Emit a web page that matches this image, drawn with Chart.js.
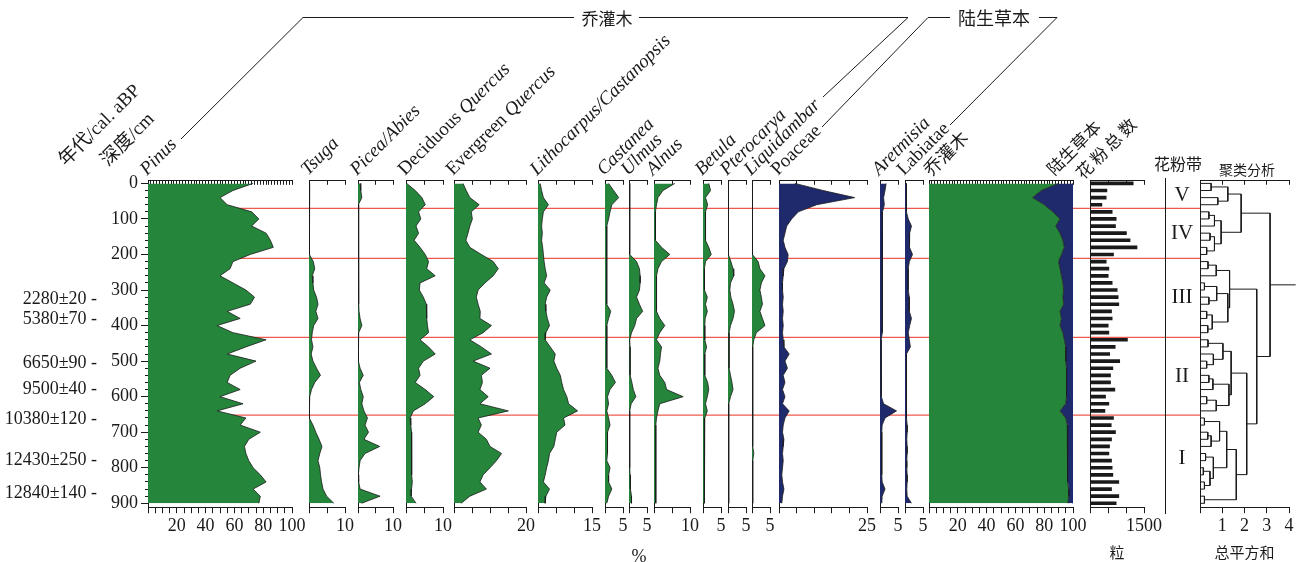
<!DOCTYPE html>
<html>
<head>
<meta charset="utf-8">
<script src="https://cdn.jsdelivr.net/npm/chart.js@4.4.1/dist/chart.umd.min.js"></script>
<style>
body { margin: 0; background: #fff; }
#wrap { position: relative; width: 1296px; height: 562px; overflow: hidden; font-family: "Liberation Serif", serif; color: #1a1a1a; }
#wrap canvas { position: absolute; }
.lab { position: absolute; white-space: nowrap; line-height: 1; transform-origin: 0 100%; transform: rotate(-45deg); }
.txt { position: absolute; white-space: nowrap; line-height: 1; transform: translate(-50%, -50%); }
.cjk { font-family: "Noto Sans CJK SC", sans-serif; }
</style>
</head>
<body>
<div id="wrap"></div>
<script>
// sample depths (cm)
const depths = [0, 20, 40, 60, 80, 100, 120, 140, 160, 180, 200, 220, 240, 260, 280, 300, 320, 340, 360, 380, 400, 420, 440, 460, 480, 500, 520, 540, 560, 580, 600, 620, 640, 660, 680, 700, 720, 740, 760, 780, 800, 820, 840, 860, 880, 900];

// pollen percentages, one value per depth
const pinus = [73, 59, 50, 55, 72, 77, 72, 82, 85, 87, 71, 59, 57, 50, 59, 68, 74, 71, 55, 64, 48, 59, 82, 68, 55, 75, 64, 57, 55, 64, 50, 66, 48, 68, 64, 78, 70, 67, 68, 70, 73, 78, 82, 73, 78, 77];
const tsuga = [0.2, 0.1, 0.1, 0.1, 0.1, 0.1, 0.1, 0.1, 0.1, 0.1, 0.2, 1.2, 1.6, 0.9, 1.1, 1.3, 2.1, 2.5, 1.9, 2.5, 1.3, 0.9, 0.7, 1.1, 0.6, 1.1, 2.1, 3.2, 1.6, 0.7, 0.2, 0, 0, 0.2, 1.1, 1.9, 2.8, 3.6, 3.0, 2.5, 3.0, 3.2, 3.5, 3.9, 4.9, 6.9];
const picea = [0.6, 0.8, 1.1, 0.1, 0.2, 0.2, 0.2, 0.2, 0.2, 0.2, 0.2, 0.2, 0.2, 0.2, 0.2, 0.2, 0.2, 0.2, 0.3, 0.6, 1.1, 0.2, 0.1, 0.1, 0.1, 0.1, 0.6, 1.5, 0.4, 0.8, 1.5, 1.1, 1.7, 2.7, 2.0, 3.0, 1.7, 6.2, 2.0, 0.6, 0.3, 0.1, 0.2, 0.6, 6.3, 1.0];
const decQuercus = [0.2, 2.5, 4.3, 5.2, 3.4, 4.0, 2.7, 3.4, 2.2, 3.8, 5.2, 6.1, 5.6, 7.9, 3.8, 3.6, 4.7, 5.5, 5.6, 5.6, 5.8, 6.1, 3.8, 6.1, 7.9, 4.7, 3.4, 3.8, 2.5, 5.2, 7.5, 5.2, 2.0, 1.1, 1.3, 1.5, 1.6, 1.6, 1.5, 1.4, 1.5, 1.6, 1.7, 1.5, 1.4, 2.7];
const evgQuercus = [2.5, 3.4, 4.4, 7.0, 4.8, 5.1, 4.4, 3.9, 3.3, 4.4, 7.6, 10.9, 12.3, 10.9, 8.6, 6.7, 6.2, 6.7, 7.3, 7.2, 10.4, 8.1, 4.4, 7.6, 10.4, 5.3, 10.0, 7.6, 7.9, 7.2, 9.5, 7.2, 15.1, 6.7, 7.6, 6.7, 9.0, 10.0, 13.2, 11.8, 10.0, 8.1, 7.2, 9.0, 4.4, 2.0];
const lithocarpus = [0.6, 1.0, 1.5, 2.9, 1.5, 1.2, 1.0, 1.2, 1.0, 1.3, 1.5, 1.7, 2.0, 2.4, 1.7, 3.4, 2.4, 2.0, 2.2, 2.6, 3.2, 2.2, 2.0, 3.4, 4.8, 4.4, 5.2, 6.2, 6.6, 7.1, 8.0, 8.5, 11.0, 7.1, 7.5, 5.2, 4.8, 4.4, 3.2, 2.9, 2.4, 2.0, 1.5, 3.2, 2.2, 2.0];
const castanea = [1.0, 2.4, 3.8, 1.9, 1.4, 1.0, 0.5, 0.5, 0.5, 0.5, 0.5, 0.3, 0.5, 0.5, 0.5, 0.5, 0.5, 0.5, 1.6, 1.0, 0.5, 0.5, 0.5, 0.5, 0.5, 0.5, 0.5, 1.9, 2.9, 1.4, 0.7, 1.0, 0.5, 1.0, 1.4, 0.7, 0.7, 0.7, 0.7, 0.5, 1.4, 1.0, 1.0, 1.9, 1.0, 0.5];
const ulmus = [0.2, 0.2, 0.2, 0.2, 0.2, 0.2, 0.2, 0.2, 0.2, 0.2, 0.2, 2.1, 2.9, 3.1, 3.1, 2.9, 2.1, 2.9, 3.8, 2.1, 1.6, 0.7, 0.2, 0.3, 0.3, 0.3, 0.3, 0.4, 0.8, 1.2, 1.9, 0.6, 0.2, 0.2, 0.2, 0.2, 0.2, 0.2, 0.2, 0.2, 0.2, 0.3, 0.3, 0.5, 0.7, 0.7];
const alnus = [5.8, 2.5, 1.1, 0.7, 0.4, 0.4, 0.4, 0.4, 0.4, 2.1, 4.4, 2.1, 1.1, 0.7, 0.7, 0.7, 0.7, 0.7, 0.7, 1.6, 3.0, 1.6, 0.7, 2.1, 1.8, 1.6, 1.1, 1.6, 3.0, 3.5, 8.1, 1.6, 1.1, 0.7, 0.5, 0.5, 0.5, 0.5, 0.5, 0.5, 0.5, 0.5, 0.5, 0.5, 0.5, 0.5];
const betula = [1.6, 2.1, 0.7, 1.3, 0.7, 0.7, 0.7, 0.7, 0.7, 1.6, 2.3, 0.7, 0.4, 0.4, 0.4, 0.4, 1.2, 0.7, 1.2, 0.6, 0.5, 0.5, 0.5, 1.0, 0.5, 0.5, 0.5, 0.5, 1.3, 1.6, 1.2, 0.7, 1.2, 0.5, 0.4, 0.4, 0.4, 0.4, 0.4, 0.4, 0.4, 0.4, 0.4, 0.4, 0.4, 0.3];
const pterocarya = [0.1, 0.1, 0.1, 0.1, 0.1, 0.1, 0.1, 0.1, 0.1, 0.1, 0.1, 0.8, 1.4, 1.6, 0.7, 0.5, 0.8, 1.4, 1.8, 1.4, 0.7, 0.3, 0.3, 0.3, 0.3, 0.3, 0.3, 0.7, 1.1, 1.4, 0.7, 0.2, 0.2, 0.2, 0.2, 0.2, 0.2, 0.2, 0.2, 0.2, 0.2, 0.2, 0.2, 0.2, 0.2, 0.2];
const liquidambar = [0.1, 0.1, 0.1, 0.1, 0.1, 0.1, 0.1, 0.1, 0.1, 0.1, 0.1, 1.7, 2.2, 3.6, 2.6, 2.2, 2.6, 2.9, 2.2, 2.9, 3.6, 1.2, 0.5, 0.2, 0.2, 0.2, 0.2, 0.2, 0.2, 0.2, 0.2, 0.2, 0.2, 0.2, 0.2, 0.2, 0.2, 0.2, 0.5, 0.2, 0.2, 0.2, 0.2, 0.2, 0.2, 0.2];
const poaceae = [4.5, 12.5, 21.5, 10.7, 5.5, 3.6, 2.2, 1.7, 1.2, 1.7, 2.6, 2.4, 1.4, 1.2, 1.0, 1.0, 1.2, 1.0, 1.2, 1.0, 1.2, 1.0, 1.2, 1.4, 2.9, 1.7, 2.4, 1.2, 1.7, 1.0, 1.7, 1.0, 2.9, 1.7, 1.2, 1.0, 1.4, 1.2, 1.0, 1.2, 1.0, 0.8, 1.0, 1.4, 1.0, 0.8];
const artemisia = [1.7, 1.4, 1.0, 1.2, 0.7, 0.7, 0.7, 0.7, 0.7, 0.7, 0.7, 0.7, 0.6, 0.6, 0.6, 0.6, 0.6, 0.6, 0.6, 0.6, 0.6, 0.6, 0.3, 0.3, 0.3, 0.3, 0.4, 0.4, 0.4, 0.4, 0.4, 1.0, 4.6, 1.4, 0.6, 0.5, 0.5, 0.5, 0.5, 0.5, 0.5, 0.5, 0.6, 1.4, 0.6, 0.5];
const labiatae = [0.4, 0.4, 0.4, 0.4, 0.4, 0.9, 1.8, 1.3, 1.2, 1.3, 2.1, 1.2, 0.9, 0.9, 0.9, 0.9, 1.2, 1.2, 1.2, 1.8, 1.3, 0.9, 1.2, 1.5, 0.4, 0.4, 0.4, 0.4, 0.4, 0.4, 0.4, 0.4, 0.5, 0.5, 0.6, 0.6, 0.5, 0.6, 0.6, 0.5, 0.5, 0.6, 0.6, 0.5, 0.6, 1.8];

// summary: trees/shrubs vs terrestrial herbs
const treeShrub = [90, 78, 72, 80, 86, 91, 88, 91, 93, 94, 92, 90, 91, 92, 93, 93.5, 93, 93.5, 91, 92, 91, 93, 94, 95, 95, 95, 95.5, 95.5, 95.5, 95.5, 95.5, 95, 91, 95, 96, 96, 96.5, 96.5, 96.5, 96, 96, 96, 96.5, 97, 97, 96.5];
const herbs = [10, 22, 28, 20, 14, 9, 12, 9, 7, 6, 8, 10, 9, 8, 7, 6.5, 7, 6.5, 9, 8, 9, 7, 6, 5, 5, 5, 4.5, 4.5, 4.5, 4.5, 4.5, 5, 9, 5, 4, 4, 3.5, 3.5, 3.5, 4, 4, 4, 3.5, 3, 3, 3.5];

// pollen sum (grains)
const pollenSum = [1200, 470, 450, 330, 616, 727, 708, 1012, 1113, 1306, 653, 450, 524, 506, 616, 755, 782, 800, 598, 616, 506, 524, 1040, 700, 548, 825, 635, 570, 570, 690, 432, 524, 414, 653, 589, 708, 598, 543, 524, 598, 616, 635, 800, 598, 800, 727];

// CONISS dendrogram: [height, left, right], leaves are sample depths
const clusterTree = [3.15,
  [1.85,
    [1.25, [0.5, 0, 20], [0.8, 40, 60]],
    [0.95, [0.65, [0.4, 80, 100], 120], [0.65, [0.45, 140, 160], [0.3, 180, 200]]]],
  [2.55,
    [1.33, [0.73, [0.36, 220, 240], 260],
      [1.25, [0.75, [0.2, 280, 300], [0.4, 320, 340]], [0.55, [0.3, 360, 380], [0.35, 400, 420]]]],
    [2.1,
      [1.4, [1.03, [0.36, 440, 460], [0.6, 480, [0.3, 500, 520]]],
        [1.3, [0.58, [0.4, 540, 560], 580], [0.73, [0.3, 600, 620], 640]]],
      [1.63,
        [1.2, [0.88, [0.2, 660, 680], [0.5, [0.35, 700, 720], 740]],
          [0.6, [0.25, 760, 780], [0.45, [0.15, 800, 820], [0.2, 840, 860]]]],
        [0.2, 880, 900]]]]];
const rootStub = 4.3;

// pollen zones
const zoneBounds = [70, 211, 433, 652];
const zoneNames = ['V', 'IV', 'III', 'II', 'I'];
const zoneMids = [35, 140, 322, 542, 775];

// dated levels
const ageLabels = ['2280±20', '5380±70', '6650±90', '9500±40', '10380±120', '12430±250', '12840±140'];
const ageDepths = [326, 382, 507, 579, 663, 778, 872];

// ---- layout ----
const W = 1296, H = 562;
const CAN_TOP = 150, CAN_H = 410;
const AREA_TOP = 180.8, AREA_BOT = 507.2;
const Y_MIN = -7.3, Y_MAX = 911;
const PAD = 24;
const GREEN = '#25853b', NAVY = '#1f2a6c', INK = '#1a1a1a', RED = '#ef5a4e';
const SERIF = '"Liberation Serif", "Times New Roman", serif';
const CJK = '"Noto Sans CJK SC", sans-serif';
const wrap = document.getElementById('wrap');

Chart.defaults.font.family = SERIF;
Chart.defaults.font.size = 18;
Chart.defaults.color = INK;

function addCanvas(left, width, top, height, z) {
  const c = document.createElement('canvas');
  c.width = width; c.height = height;
  c.style.left = left + 'px'; c.style.top = top + 'px';
  c.style.width = width + 'px'; c.style.height = height + 'px';
  c.style.zIndex = z;
  wrap.appendChild(c);
  return c;
}

function base(opts) {
  return Object.assign({
    responsive: false, animation: false, devicePixelRatio: 1, events: [],
    plugins: { legend: { display: false }, tooltip: { enabled: false } }
  }, opts);
}

function xBottom(max, step, labelFn, title) {
  return {
    type: 'linear', position: 'bottom', min: 0, max: max,
    ticks: { stepSize: step, autoSkip: false, maxRotation: 0, padding: 2, callback: labelFn },
    grid: { drawOnChartArea: false, tickLength: 6, tickColor: INK },
    border: { color: INK, width: 1 },
    title: title ? { display: true, text: title, font: { family: CJK, size: 15, lineHeight: 1 }, padding: { top: 0, bottom: 0 } } : { display: false },
    afterFit: s => { s.height = CAN_TOP + CAN_H - AREA_BOT; }
  };
}

function xTop(max, step) {
  return {
    type: 'linear', position: 'top', min: 0, max: max,
    ticks: { display: false, stepSize: step, autoSkip: false },
    grid: { drawOnChartArea: false, tickLength: -4, tickColor: INK },
    border: { color: INK, width: 1 },
    afterFit: s => { s.height = AREA_TOP - CAN_TOP; }
  };
}

function yDepth(extra) {
  return Object.assign({
    type: 'linear', position: 'left', reverse: true, min: Y_MIN, max: Y_MAX, offset: false,
    ticks: { display: false, stepSize: 100, includeBounds: false },
    grid: { display: false, offset: false },
    border: { display: true, color: INK, width: 1 },
    afterFit: s => { s.width = 0; }
  }, extra);
}

const onlyMax = max => v => (v === max ? String(v) : '');
const by20 = v => (v > 0 && v % 20 === 0 ? String(v) : '');
const pts = arr => depths.map((d, i) => ({ x: arr[i], y: d }));

function profile(arr, color) {
  return { data: pts(arr), fill: 'origin', backgroundColor: color, borderColor: INK, borderWidth: 0.8, pointRadius: 0, tension: 0 };
}

// ---- background: zone lines and group brackets ----
const redPts = [];
zoneBounds.forEach(b => { redPts.push({ x: 0, y: b }, { x: 1, y: b }, { x: null, y: null }); });

const bracketPaths = [
  [[181, 139], [303, 17.5], [574, 17.5]],
  [[639, 17.5], [908, 17.5], [823, 97]],
  [[822, 127], [928, 17.5], [950, 17.5]],
  [[1039, 17.5], [1057, 17.5], [950, 125]]
];
const bracketPlugin = {
  id: 'brackets',
  afterDraw(chart) {
    const ctx = chart.ctx;
    ctx.save();
    ctx.strokeStyle = INK;
    ctx.lineWidth = 1;
    bracketPaths.forEach(path => {
      ctx.beginPath();
      path.forEach((p, i) => (i ? ctx.lineTo(p[0], p[1]) : ctx.moveTo(p[0], p[1])));
      ctx.stroke();
    });
    ctx.restore();
  }
};

new Chart(addCanvas(0, W, 0, H, 0), {
  type: 'line',
  data: { datasets: [{ data: redPts, borderColor: RED, borderWidth: 1.3, pointRadius: 0, spanGaps: false }] },
  options: base({
    layout: { padding: { left: 148, right: W - 1200, top: AREA_TOP, bottom: H - AREA_BOT } },
    scales: {
      x: { type: 'linear', display: false, min: 0, max: 1 },
      y: { type: 'linear', display: false, reverse: true, min: Y_MIN, max: Y_MAX }
    }
  }),
  plugins: [bracketPlugin]
});

// ---- Pinus with depth and age axes ----
new Chart(addCanvas(0, 292 + PAD, CAN_TOP, CAN_H, 2), {
  type: 'line',
  data: { datasets: [profile(pinus, GREEN)] },
  options: base({
    indexAxis: 'y',
    layout: { padding: { left: 0, right: PAD } },
    scales: {
      x: xBottom(100, 5, by20),
      xt: xTop(100, 2),
      y: yDepth({
        weight: 1,
        ticks: { display: true, stepSize: 100, includeBounds: false, autoSkip: false, padding: 3 },
        grid: { display: true, drawOnChartArea: false, tickLength: 7, tickColor: INK },
        afterFit: s => { s.width = 48; }
      }),
      ym: yDepth({
        weight: 0,
        ticks: { display: false, stepSize: 20, includeBounds: false },
        grid: { display: true, drawOnChartArea: false, tickLength: 3, tickColor: INK },
        border: { display: false }
      }),
      yage: {
        type: 'linear', position: 'left', weight: 2, reverse: true, min: Y_MIN, max: Y_MAX,
        afterBuildTicks: s => { s.ticks = ageDepths.map(v => ({ value: v })); },
        ticks: { autoSkip: false, padding: 3, callback: (v, i) => ageLabels[i] + ' -' },
        grid: { display: false, drawTicks: false },
        border: { display: false },
        afterFit: s => { s.width = 100; }
      }
    }
  })
});

// ---- single-taxon panels ----
const panels = [
  { values: tsuga, x0: 309, x1: 345, max: 10, color: GREEN },
  { values: picea, x0: 358, x1: 393, max: 10, color: GREEN },
  { values: decQuercus, x0: 406, x1: 443, max: 10, color: GREEN },
  { values: evgQuercus, x0: 454, x1: 526, max: 20, color: GREEN },
  { values: lithocarpus, x0: 538, x1: 592, max: 15, color: GREEN },
  { values: castanea, x0: 605, x1: 623, max: 5, color: GREEN },
  { values: ulmus, x0: 629, x1: 647, max: 5, color: GREEN },
  { values: alnus, x0: 654, x1: 690, max: 10, color: GREEN },
  { values: betula, x0: 703, x1: 721, max: 5, color: GREEN },
  { values: pterocarya, x0: 728, x1: 746, max: 5, color: GREEN },
  { values: liquidambar, x0: 752, x1: 770, max: 5, color: GREEN },
  { values: poaceae, x0: 779, x1: 867, max: 25, color: NAVY },
  { values: artemisia, x0: 880, x1: 898, max: 5, color: NAVY },
  { values: labiatae, x0: 905, x1: 923, max: 5, color: NAVY }
];

panels.forEach(p => {
  new Chart(addCanvas(p.x0 - PAD, p.x1 - p.x0 + 2 * PAD, CAN_TOP, CAN_H, 2), {
    type: 'line',
    data: { datasets: [profile(p.values, p.color)] },
    options: base({
      indexAxis: 'y',
      layout: { padding: { left: PAD, right: PAD } },
      scales: {
        x: xBottom(p.max, 5, onlyMax(p.max)),
        xt: xTop(p.max, 5),
        y: yDepth({})
      }
    })
  });
});

// ---- trees/shrubs vs herbs summary ----
new Chart(addCanvas(929 - PAD, 144 + 2 * PAD, CAN_TOP, CAN_H, 2), {
  type: 'line',
  data: {
    datasets: [
      profile(treeShrub, GREEN),
      { data: depths.map((d, i) => ({ x: treeShrub[i] + herbs[i], y: d })), fill: '-1', backgroundColor: NAVY, borderColor: NAVY, borderWidth: 0.8, pointRadius: 0 }
    ]
  },
  options: base({
    indexAxis: 'y',
    layout: { padding: { left: PAD, right: PAD } },
    scales: { x: xBottom(100, 5, by20), xt: xTop(100, 2), y: yDepth({}) }
  })
});

// ---- pollen sum bars ----
new Chart(addCanvas(1090 - PAD, 54 + 2 * PAD, CAN_TOP, CAN_H, 2), {
  type: 'bar',
  data: { datasets: [{ data: pts(pollenSum), backgroundColor: INK, barThickness: 3 }] },
  options: base({
    indexAxis: 'y',
    layout: { padding: { left: PAD, right: PAD } },
    scales: { x: xBottom(1500, 500, onlyMax(1500), '粒'), xt: xTop(1500, 500), y: yDepth({}) }
  })
});

// ---- pollen zone column ----
const zTop = 178, zBot = 513, pxPerCm = (AREA_BOT - AREA_TOP) / (Y_MAX - Y_MIN);
new Chart(addCanvas(1131, 70, CAN_TOP, CAN_H, 2), {
  type: 'line',
  data: { datasets: [] },
  options: base({
    layout: { padding: { left: 0, right: 0, top: zTop - CAN_TOP, bottom: CAN_TOP + CAN_H - zBot } },
    scales: {
      x: { type: 'linear', display: false, min: 0, max: 1 },
      y: {
        type: 'linear', position: 'right', reverse: true,
        min: Y_MIN - (AREA_TOP - zTop) / pxPerCm, max: Y_MAX + (zBot - AREA_BOT) / pxPerCm,
        afterBuildTicks: s => { s.ticks = zoneMids.map(v => ({ value: v })); },
        ticks: { autoSkip: false, crossAlign: 'center', padding: 6, font: { size: 21 }, callback: (v, i) => zoneNames[i] },
        grid: { display: false, drawTicks: false },
        border: { display: true, color: INK, width: 1 },
        afterFit: s => { s.width = 36; }
      }
    }
  })
});

// ---- CONISS dendrogram ----
const dendroPts = [];
function placeNode(node) {
  if (typeof node === 'number') return { x: 0, y: node };
  const a = placeNode(node[1]), b = placeNode(node[2]);
  dendroPts.push({ x: a.x, y: a.y }, { x: node[0], y: a.y }, { x: node[0], y: b.y }, { x: b.x, y: b.y }, { x: null, y: null });
  return { x: node[0], y: (a.y + b.y) / 2 };
}
const root = placeNode(clusterTree);
dendroPts.push({ x: root.x, y: root.y }, { x: rootStub, y: root.y });

new Chart(addCanvas(1200 - PAD, 89 + 2 * PAD, CAN_TOP, CAN_H, 2), {
  type: 'scatter',
  data: { datasets: [{ data: dendroPts, showLine: true, spanGaps: false, borderColor: INK, borderWidth: 1, pointRadius: 0, clip: false }] },
  options: base({
    layout: { padding: { left: PAD, right: PAD } },
    scales: {
      x: xBottom(4, 1, v => (v > 0 ? String(v) : ''), '总平方和'),
      xt: xTop(4, 1),
      y: yDepth({})
    }
  })
});

// ---- text labels ----
function rotLabel(html, x, y, size, cjk, spacing) {
  const d = document.createElement('div');
  d.className = 'lab' + (cjk ? ' cjk' : '');
  d.innerHTML = html;
  d.style.left = x + 'px';
  d.style.top = (y - size) + 'px';
  d.style.fontSize = size + 'px';
  if (spacing) d.style.letterSpacing = spacing + 'px';
  wrap.appendChild(d);
}
function flatText(html, x, y, size, cjk) {
  const d = document.createElement('div');
  d.className = 'txt' + (cjk ? ' cjk' : '');
  d.innerHTML = html;
  d.style.left = x + 'px';
  d.style.top = y + 'px';
  d.style.fontSize = size + 'px';
  wrap.appendChild(d);
}

const taxonLabels = [
  ['<i>Pinus</i>', 149], ['<i>Tsuga</i>', 310], ['<i>Picea/Abies</i>', 359],
  ['Deciduous <i>Quercus</i>', 407], ['Evergreen <i>Quercus</i>', 455],
  ['<i>Lithocarpus/Castanopsis</i>', 539], ['<i>Castanea</i>', 606], ['<i>Ulmus</i>', 630],
  ['<i>Alnus</i>', 655], ['<i>Betula</i>', 704], ['<i>Pterocarya</i>', 729],
  ['<i>Liquidambar</i>', 753], ['Poaceae', 780], ['<i>Aretmisia</i>', 881], ['Labiatae', 906]
];
taxonLabels.forEach(t => rotLabel(t[0], t[1], 178, 19, false));
rotLabel('乔灌木', 932, 178, 18, true);
rotLabel('陆生草本', 1055, 177, 17, true);
rotLabel('花粉总数', 1084, 181, 17, true, 3);
rotLabel('<span class="cjk">年代</span>/cal. aBP', 68, 167, 19, false);
rotLabel('<span class="cjk">深度</span>/cm', 110, 167, 19, false);

flatText('乔灌木', 607, 17, 17, true);
flatText('陆生草本', 994, 17, 18, true);
flatText('花粉带', 1178, 163, 16, true);
flatText('聚类分析', 1247, 169, 14, true);
flatText('%', 639, 556, 18, false);
</script>
</body>
</html>
